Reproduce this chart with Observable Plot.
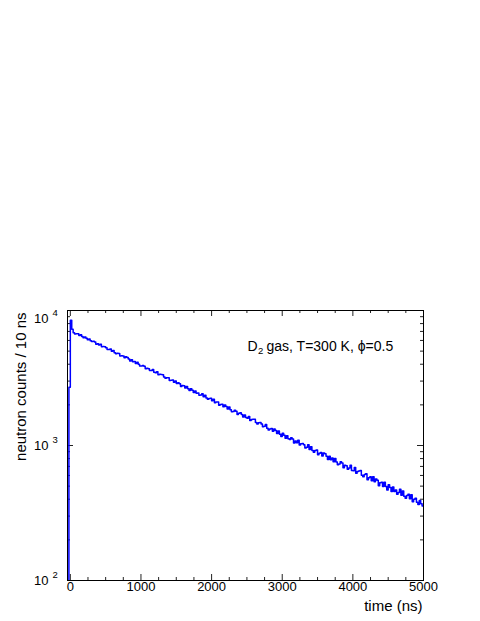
<!DOCTYPE html>
<html>
<head>
<meta charset="utf-8">
<script src="https://cdn.jsdelivr.net/npm/d3@7"></script>
<script src="https://cdn.jsdelivr.net/npm/@observablehq/plot@0.6"></script>
<style>
  html, body { margin: 0; padding: 0; background: #fff; }
</style>
</head>
<body>
<div id="chart"></div>
<script>
// Histogram: neutron counts per 10 ns, drawn in 20 ns steps
const binStartNs = -40;
const binWidthNs = 20;
const counts = [
  30, 2700, 8450, 7250, 6850, 6700, 6720,
  6732, 6538, 6616, 6424, 6275,
  6377, 6240, 6063, 6141, 5966,
  5889, 5927, 5834, 5627, 5668,
  5563, 5625, 5395, 5412, 5387,
  5293, 5137, 5133, 5188, 4984,
  5051, 4874, 4788, 4815, 4800,
  4599, 4619, 4612, 4470, 4539,
  4478, 4373, 4235, 4311, 4174,
  4196, 4058, 4130, 3994, 3888,
  3881, 3922, 3857, 3700, 3742,
  3710, 3588, 3594, 3648, 3484,
  3456, 3516, 3345, 3370, 3359,
  3347, 3211, 3151, 3181, 3178,
  3024, 3049, 3051, 2944, 3008,
  2880, 2921, 2871, 2740, 2782,
  2776, 2670, 2737, 2633, 2555,
  2638, 2566, 2470, 2537, 2441,
  2453, 2360, 2371, 2422, 2296,
  2355, 2246, 2200, 2231, 2234,
  2147, 2199, 2073, 2098, 2097,
  1986, 2012, 2019, 1937, 1995,
  1949, 1865, 1926, 1843, 1781,
  1787, 1825, 1791, 1694, 1732,
  1749, 1696, 1623, 1681, 1609,
  1593, 1642, 1535, 1561, 1562,
  1564, 1480, 1446, 1476, 1482,
  1440, 1374, 1388, 1432, 1340,
  1303, 1327, 1337, 1274, 1325,
  1291, 1225, 1279, 1214, 1167,
  1231, 1189, 1130, 1182, 1124,
  1107, 1141, 1118, 1044, 1078,
  1049, 1092, 1007, 1032, 1036,
  1011, 957, 971, 1011, 935,
  980, 917, 893, 919, 927,
  853, 875, 886, 837, 881,
  867, 834, 786, 832, 785,
  807, 758, 802, 754, 719,
  728, 757, 741, 683, 713,
  709, 667, 680, 713, 653,
  651, 687, 622, 643, 648,
  653, 603, 586, 609, 617,
  558, 578, 587, 549, 586,
  539, 564, 552, 504, 529,
  535, 497, 534, 496, 469,
  513, 489, 456, 492, 457,
  469, 436, 448, 475, 428,
  461, 420, 407, 427, 435,
  403, 432, 383, 400, 406,
  380, 366, 392, 371, 356
];

const xDomain = [-40, 5000];
const yDomain = [100, 10000];
const xMajorTicks = [0, 1000, 2000, 3000, 4000, 5000];
const xMinorTicks = [250, 500, 750, 1250, 1500, 1750, 2250, 2500, 2750, 3250, 3500, 3750, 4250, 4500, 4750];
const yMajorTicks = [100, 1000, 10000];
const yMinorTicks = [200, 300, 400, 500, 600, 700, 800, 900, 2000, 3000, 4000, 5000, 6000, 7000, 8000, 9000];
const xTitle = "time (ns)";
const yTitle = "neutron counts / 10 ns";
const noteMain = "D";
const noteSub = "2";
const noteRest = "gas, T=300 K, \u03D5=0.5";

// build step data
const hist = counts.map((c, i) => ({t: binStartNs + i * binWidthNs, c}));
hist.push({t: binStartNs + counts.length * binWidthNs, c: counts[counts.length - 1]});

const W = 480, H = 621;
const mT = 310, mB = 41, mL = 67, mR = 57;
const fw = W - mL - mR, fh = H - mT - mB;
const tickCol = "#222";

const chart = Plot.plot({
  width: W, height: H,
  marginTop: mT, marginBottom: mB, marginLeft: mL, marginRight: mR,
  style: {fontFamily: "'Liberation Sans', Arial, Helvetica, sans-serif", fontSize: "13px", background: "white", color: "black", overflow: "visible"},
  x: {domain: xDomain, axis: null},
  y: {type: "log", domain: yDomain, axis: null},
  marks: [
    // ticks (inside the frame, ROOT style)
    Plot.tickX(xMajorTicks, {x: d => d, insetTop: fh - 6, stroke: tickCol}),
    Plot.tickX(xMinorTicks, {x: d => d, insetTop: fh - 3, stroke: tickCol}),
    Plot.tickX(xMajorTicks, {x: d => d, insetBottom: fh - 6, stroke: tickCol}),
    Plot.tickX(xMinorTicks, {x: d => d, insetBottom: fh - 3, stroke: tickCol}),
    Plot.tickY(yMajorTicks, {y: d => d, insetRight: fw - 6, stroke: tickCol}),
    Plot.tickY(yMinorTicks, {y: d => d, insetRight: fw - 3, stroke: tickCol}),
    Plot.tickY(yMajorTicks, {y: d => d, insetLeft: fw - 6, stroke: tickCol}),
    Plot.tickY(yMinorTicks, {y: d => d, insetLeft: fw - 3, stroke: tickCol}),
    // histogram
    Plot.line(hist, {x: "t", y: "c", curve: "step-after", stroke: "#0000ff", strokeWidth: 1.5, clip: true}),
    Plot.frame({stroke: "black", strokeWidth: 1}),
    // x tick labels
    Plot.text(xMajorTicks, {x: d => d, frameAnchor: "bottom", text: d => String(d), dy: 10, fontSize: 13, fill: "black"}),
    // y tick labels (10^n)
    Plot.text(yMajorTicks.filter(d => d < 10000), {y: d => d, frameAnchor: "left", text: () => "10", textAnchor: "end", dx: -19, fontSize: 13, fill: "black"}),
    Plot.text(yMajorTicks.filter(d => d < 10000), {y: d => d, frameAnchor: "left", text: d => String(Math.round(Math.log10(d))), textAnchor: "start", dx: -15, dy: -6, fontSize: 9.5, fill: "black"}),
    Plot.text(yMajorTicks.filter(d => d >= 10000), {y: d => d, frameAnchor: "left", text: () => "10", textAnchor: "end", dx: -19, dy: 8, fontSize: 13, fill: "black"}),
    Plot.text(yMajorTicks.filter(d => d >= 10000), {y: d => d, frameAnchor: "left", text: d => String(Math.round(Math.log10(d))), textAnchor: "start", dx: -15, dy: 2.5, fontSize: 9.5, fill: "black"}),
    // axis titles
    Plot.text([xTitle], {frameAnchor: "bottom-right", text: d => d, textAnchor: "end", lineAnchor: "bottom", dx: -1, dy: 30, fontSize: 15, fill: "black"}),
    Plot.text([yTitle], {frameAnchor: "top-left", text: d => d, textAnchor: "end", lineAnchor: "bottom", rotate: -90, dx: -42, dy: 2, fontSize: 15, fill: "black"}),
    // annotation
    Plot.text([noteMain], {frameAnchor: "top-left", text: d => d, textAnchor: "start", lineAnchor: "bottom", dx: 180, dy: 40, fontSize: 14, fill: "black"}),
    Plot.text([noteSub], {frameAnchor: "top-left", text: d => d, textAnchor: "start", lineAnchor: "bottom", dx: 190.5, dy: 43, fontSize: 9.5, fill: "black"}),
    Plot.text([noteRest], {frameAnchor: "top-left", text: d => d, textAnchor: "start", lineAnchor: "bottom", dx: 199, dy: 40, fontSize: 14, fill: "black"})
  ]
});
document.getElementById("chart").appendChild(chart);
</script>
</body>
</html>
